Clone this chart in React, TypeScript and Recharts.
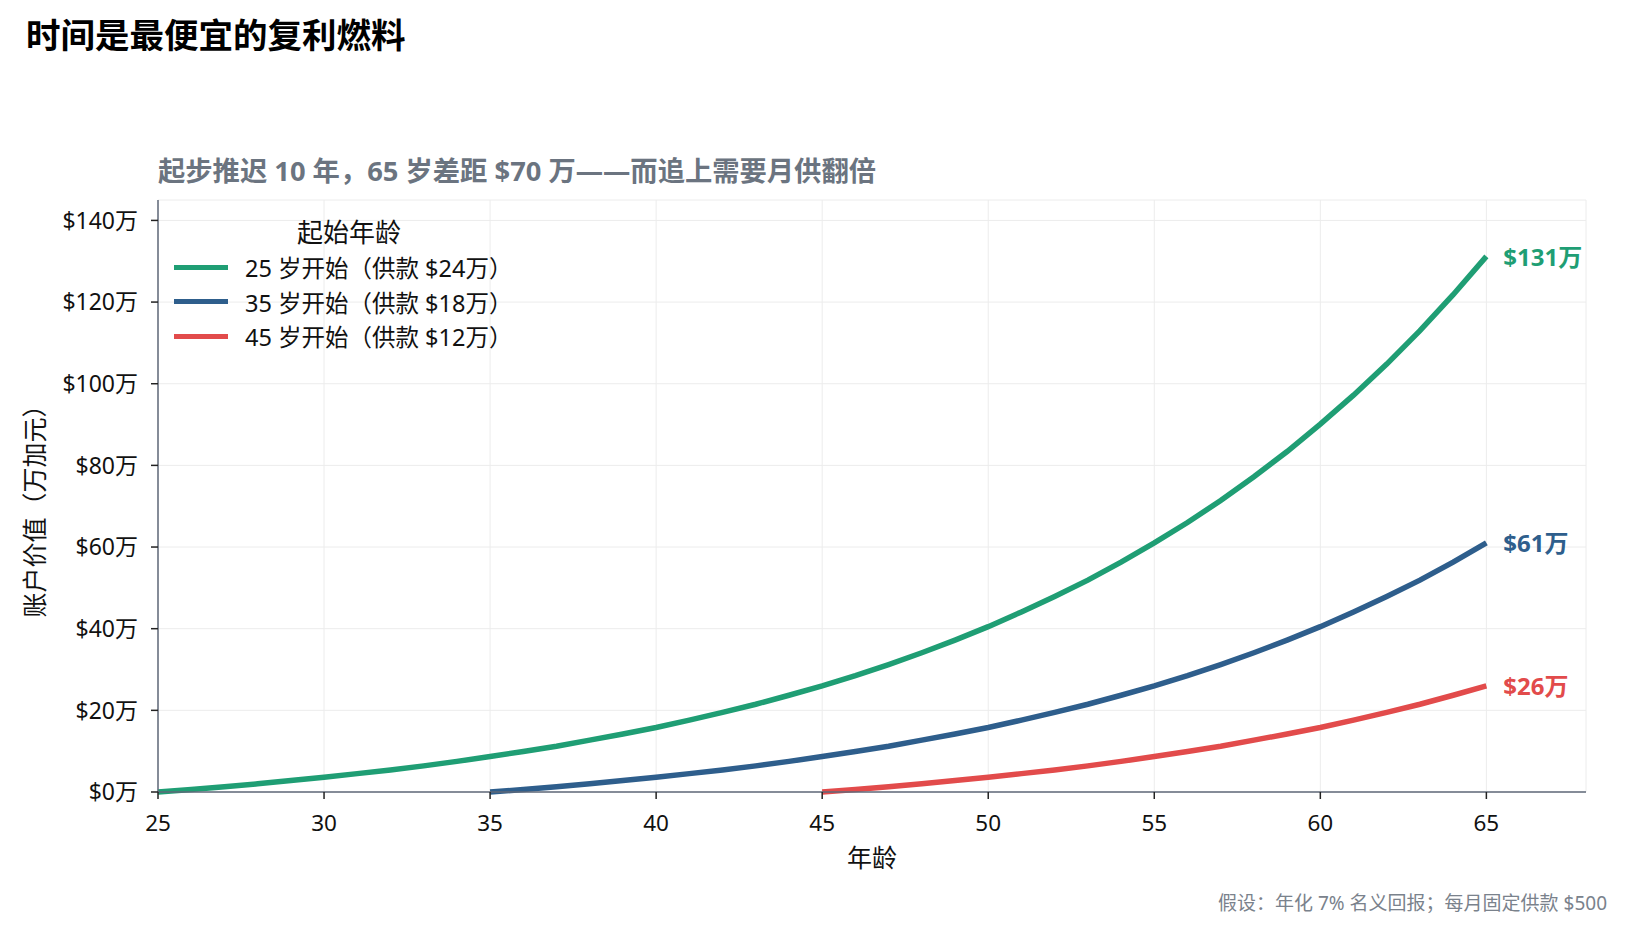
import React from "react"
import { LineChart, Line, XAxis, YAxis, CartesianGrid, Legend, Label } from "recharts"

// ages on the x axis
const ages = [
  25, 26, 27, 28, 29, 30, 31, 32, 33, 34, 35, 36, 37, 38, 39, 40, 41, 42, 43, 44, 45,
  46, 47, 48, 49, 50, 51, 52, 53, 54, 55, 56, 57, 58, 59, 60, 61, 62, 63, 64, 65,
]

// account value in 万, one value per year from the starting age to 65
const start25 = [
  0, 0.6, 1.3, 2.0, 2.8, 3.6, 4.5, 5.4, 6.4, 7.5, 8.7, 9.9, 11.2, 12.7, 14.2, 15.8, 17.6, 19.5, 21.5, 23.7, 26.0,
  28.5, 31.2, 34.1, 37.2, 40.5, 44.1, 47.9, 51.9, 56.3, 61.0, 66.0, 71.4, 77.2, 83.4, 90.1, 97.2, 104.8, 113.0,
  121.8, 131.2,
]
const start35 = [
  0, 0.6, 1.3, 2.0, 2.8, 3.6, 4.5, 5.4, 6.4, 7.5, 8.7, 9.9, 11.2, 12.7, 14.2, 15.8, 17.6, 19.5, 21.5, 23.7, 26.0,
  28.5, 31.2, 34.1, 37.2, 40.5, 44.1, 47.9, 51.9, 56.3, 61.0,
]
const start45 = [
  0, 0.6, 1.3, 2.0, 2.8, 3.6, 4.5, 5.4, 6.4, 7.5, 8.7, 9.9, 11.2, 12.7, 14.2, 15.8, 17.6, 19.5, 21.5, 23.7, 26.0,
]

const xTicks = [25, 30, 35, 40, 45, 50, 55, 60, 65]
const yTicks = [0, 20, 40, 60, 80, 100, 120, 140]

const series = [
  { key: "s25", name: "25 岁开始（供款 $24万）", color: "#1f9e74", end: "$131万" },
  { key: "s35", name: "35 岁开始（供款 $18万）", color: "#2e5e8c", end: "$61万" },
  { key: "s45", name: "45 岁开始（供款 $12万）", color: "#e24b4b", end: "$26万" },
]

const data = ages.map((age, i) => ({
  age,
  s25: start25[i],
  s35: i >= 10 ? start35[i - 10] : null,
  s45: i >= 20 ? start45[i - 20] : null,
}))

const FONT = "'Noto Sans', 'Noto Sans CJK SC', sans-serif"
const LAST = ages.length - 1

const endLabel = (color: string, text: string) => (props: any) => {
  if (props.index !== LAST) return null
  return (
    <text
      x={props.x + 17}
      y={props.y}
      dominantBaseline="central"
      fill={color}
      fontSize={24}
      fontWeight={700}
      fontFamily={FONT}
    >
      {text}
    </text>
  )
}

function LegendBox() {
  return (
    <div style={{ fontFamily: FONT, color: "#111", width: 350 }}>
      <div style={{ textAlign: "center", fontSize: 26, height: 35, lineHeight: "35px" }}>起始年龄</div>
      {series.map((s) => (
        <div key={s.key} style={{ display: "flex", alignItems: "center", height: 34.5 }}>
          <div style={{ width: 54, height: 5, background: s.color, marginRight: 17 }} />
          <span style={{ fontSize: 23.5 }}>{s.name}</span>
        </div>
      ))}
    </div>
  )
}

export default function App() {
  return (
    <div style={{ position: "absolute", left: 0, top: 0, width: 1627, height: 932, background: "#fff", fontFamily: FONT }}>
      <div style={{ position: "absolute", left: 26, top: 14, fontSize: 34.5, fontWeight: 700, color: "#000", lineHeight: "42px" }}>
        时间是最便宜的复利燃料
      </div>
      <div style={{ position: "absolute", left: 158, top: 154, fontSize: 27.3, fontWeight: 700, color: "#6b7480", lineHeight: "34px" }}>
        起步推迟 10 年，65 岁差距 $70 万——而追上需要月供翻倍
      </div>
      <LineChart width={1627} height={932} data={data} margin={{ top: 200, right: 41, bottom: 110, left: 78 }}>
        <CartesianGrid stroke="#ececec" strokeWidth={1} />
        <XAxis
          dataKey="age"
          type="number"
          domain={[25, 68]}
          ticks={xTicks}
          axisLine={{ stroke: "#5f6978", strokeWidth: 1.5 }}
          tickLine={{ stroke: "#222", strokeWidth: 1.5 }}
          tickSize={7}
          tickMargin={16}
          height={30}
          tick={{ fill: "#111", fontSize: 22.5, fontFamily: FONT }}
        >
          <Label value="年龄" position="bottom" offset={27} fill="#111" fontSize={25} fontFamily={FONT} />
        </XAxis>
        <YAxis
          type="number"
          domain={[0, 145]}
          ticks={yTicks}
          width={80}
          axisLine={{ stroke: "#5f6978", strokeWidth: 1.5 }}
          tickLine={{ stroke: "#222", strokeWidth: 1.5 }}
          tickSize={7}
          tickMargin={13}
          tickFormatter={(v) => `$${v}万`}
          tick={{ fill: "#111", fontSize: 23, fontFamily: FONT }}
        >
          <Label
            content={() => (
              <text
                x={34}
                y={505}
                transform="rotate(-90 34 505)"
                textAnchor="middle"
                dominantBaseline="central"
                fill="#111"
                fontSize={25}
                fontFamily={FONT}
              >
                账户价值（万加元）
              </text>
            )}
          />
        </YAxis>
        <Legend
          layout="horizontal"
          align="center"
          verticalAlign="middle"
          content={() => <LegendBox />}
          wrapperStyle={{ left: 174, top: 215, width: 350 }}
        />
        {series.map((s) => (
          <Line
            key={s.key}
            dataKey={s.key}
            name={s.name}
            type="linear"
            stroke={s.color}
            strokeWidth={5.5}
            dot={false}
            isAnimationActive={false}
            label={endLabel(s.color, s.end)}
          />
        ))}
      </LineChart>
      <div style={{ position: "absolute", right: 20, top: 890, fontSize: 19, color: "#7a828c", lineHeight: "26px" }}>
        假设：年化 7% 名义回报；每月固定供款 $500
      </div>
    </div>
  )
}
